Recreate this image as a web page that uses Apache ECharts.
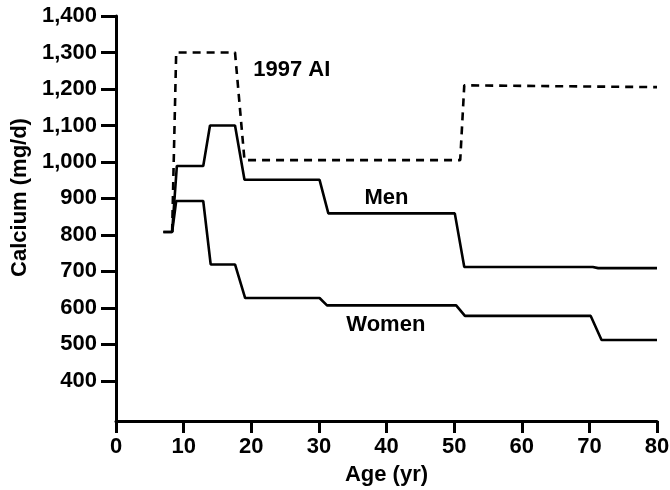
<!DOCTYPE html>
<html>
<head>
<meta charset="utf-8">
<script src="https://cdn.jsdelivr.net/npm/echarts@6/dist/echarts.min.js"></script>
<style>html,body{margin:0;padding:0;background:#fff}#c{width:670px;height:490px}</style>
</head>
<body>
<div id="c"></div>
<script>
// Data
const menAges   = [7, 8.3, 9, 12.9, 13.9, 17.6, 19, 30.1, 31.4, 50.1, 51.5, 70.5, 71.3, 80];
const menCa     = [808, 808, 989, 989, 1100, 1100, 951, 951, 859, 859, 712, 712, 709, 709];
const womenAges = [7, 8.3, 8.9, 12.9, 14, 17.6, 19.1, 30.1, 31.2, 50.3, 51.6, 70.2, 71.8, 80];
const womenCa   = [808, 808, 893, 893, 719, 719, 627, 627, 607, 607, 578, 578, 512, 512];
const aiAges    = [8.3, 8.9, 17.6, 19, 50.9, 51.5, 80];
const aiCa      = [808, 1300, 1300, 1005, 1005, 1210, 1205];
const yTicks    = [400, 500, 600, 700, 800, 900, 1000, 1100, 1200, 1300, 1400];
const labels    = [
  {name: '1997 AI', age: 26, ca: 1251},
  {name: 'Men', age: 40, ca: 900},
  {name: 'Women', age: 39.9, ca: 554}
];

const zip = (xs, ys) => xs.map((x, i) => [x, ys[i]]);
const font = {fontFamily: 'Liberation Sans', fontWeight: 'bold', fontSize: 22, color: '#000'};

const chart = echarts.init(document.getElementById('c'), null, {renderer: 'canvas'});
const lineStyleSolid = {color: '#000', width: 2.6};
chart.setOption({
  animation: false,
  backgroundColor: '#fff',
  grid: {left: 116, right: 13, top: 16, bottom: 69, outerBoundsMode: 'none', containLabel: false},
  xAxis: {
    type: 'value', min: 0, max: 80, interval: 10,
    name: 'Age (yr)', nameLocation: 'middle', nameGap: 43,
    nameTextStyle: font,
    axisLine: {show: true, lineStyle: {color: '#000', width: 3}},
    axisTick: {show: true, inside: false, length: 12, lineStyle: {color: '#000', width: 3}},
    axisLabel: Object.assign({margin: 15}, font),
    splitLine: {show: false}
  },
  yAxis: {
    type: 'value', min: 290, max: 1400,
    name: 'Calcium (mg/d)', nameLocation: 'middle', nameGap: 83, nameRotate: 90,
    nameTextStyle: Object.assign({padding: [0, 0, 0, 42]}, font),
    axisLine: {show: true, onZero: false, lineStyle: {color: '#000', width: 3}},
    axisTick: {show: true, inside: false, length: 15, customValues: yTicks, lineStyle: {color: '#000', width: 3}},
    axisLabel: Object.assign({margin: 19, customValues: yTicks, formatter: v => Number(v).toLocaleString('en-US')}, font),
    splitLine: {show: false}
  },
  series: [
    {
      type: 'line', name: 'Men', data: zip(menAges, menCa), showSymbol: false, symbol: 'none',
      lineStyle: lineStyleSolid, z: 3,
      markPoint: {
        symbol: 'rect', symbolSize: 0,
        label: Object.assign({show: true, position: 'inside', formatter: '{b}'}, font),
        data: [{name: labels[1].name, coord: [labels[1].age, labels[1].ca]}]
      }
    },
    {
      type: 'line', name: 'Women', data: zip(womenAges, womenCa), showSymbol: false, symbol: 'none',
      lineStyle: lineStyleSolid, z: 3,
      markPoint: {
        symbol: 'rect', symbolSize: 0,
        label: Object.assign({show: true, position: 'inside', formatter: '{b}'}, font),
        data: [{name: labels[2].name, coord: [labels[2].age, labels[2].ca]}]
      }
    },
    {
      type: 'line', name: '1997 AI', data: zip(aiAges, aiCa), showSymbol: false, symbol: 'none',
      lineStyle: {color: '#000', width: 2.6, type: [8, 6]}, z: 2,
      markPoint: {
        symbol: 'rect', symbolSize: 0,
        label: Object.assign({show: true, position: 'inside', formatter: '{b}'}, font),
        data: [{name: labels[0].name, coord: [labels[0].age, labels[0].ca]}]
      }
    }
  ]
});
</script>
</body>
</html>
